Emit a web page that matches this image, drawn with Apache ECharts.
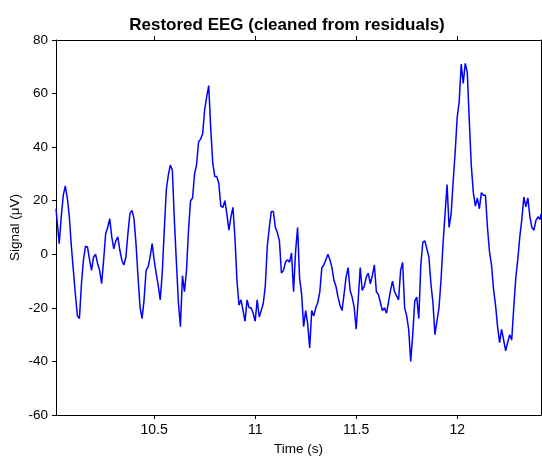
<!DOCTYPE html>
<html>
<head>
<meta charset="utf-8">
<title>Restored EEG</title>
<script src="https://cdn.jsdelivr.net/npm/echarts@6/dist/echarts.min.js"></script>
<style>
  html, body { margin: 0; padding: 0; background: #fff; }
  #chart { width: 542px; height: 456px; }
</style>
</head>
<body>
<div id="chart"></div>
<script>
// time stamps (s)
const timeS = [
  10.014,
  10.02, 10.03, 10.04, 10.05, 10.06, 10.07, 10.08, 10.09, 10.10,
  10.11, 10.12, 10.13, 10.14, 10.15, 10.16, 10.17, 10.18, 10.19, 10.20,
  10.21, 10.22, 10.23, 10.24, 10.25, 10.26, 10.27, 10.28, 10.29, 10.30,
  10.31, 10.32, 10.33, 10.34, 10.35, 10.36, 10.37, 10.38, 10.39, 10.40,
  10.41, 10.42, 10.43, 10.44, 10.45, 10.46, 10.47, 10.48, 10.49, 10.50,
  10.51, 10.52, 10.53, 10.54, 10.55, 10.56, 10.57, 10.58, 10.59, 10.60,
  10.61, 10.62, 10.63, 10.64, 10.65, 10.66, 10.67, 10.68, 10.69, 10.70,
  10.71, 10.72, 10.73, 10.74, 10.75, 10.76, 10.77, 10.78, 10.79, 10.80,
  10.81, 10.82, 10.83, 10.84, 10.85, 10.86, 10.87, 10.88, 10.89, 10.90,
  10.91, 10.92, 10.93, 10.94, 10.95, 10.96, 10.97, 10.98, 10.99, 11.00,
  11.01, 11.02, 11.03, 11.04, 11.05, 11.06, 11.07, 11.08, 11.09, 11.10,
  11.11, 11.12, 11.13, 11.14, 11.15, 11.16, 11.17, 11.18, 11.19, 11.20,
  11.21, 11.22, 11.23, 11.24, 11.25, 11.26, 11.27, 11.28, 11.29, 11.30,
  11.31, 11.32, 11.33, 11.34, 11.35, 11.36, 11.37, 11.38, 11.39, 11.40,
  11.41, 11.42, 11.43, 11.44, 11.45, 11.46, 11.47, 11.48, 11.49, 11.50,
  11.51, 11.52, 11.53, 11.54, 11.55, 11.56, 11.57, 11.58, 11.59, 11.60,
  11.61, 11.62, 11.63, 11.64, 11.65, 11.66, 11.67, 11.68, 11.69, 11.70,
  11.71, 11.72, 11.73, 11.74, 11.75, 11.76, 11.77, 11.78, 11.79, 11.80,
  11.81, 11.82, 11.83, 11.84, 11.85, 11.86, 11.87, 11.88, 11.89, 11.90,
  11.91, 11.92, 11.93, 11.94, 11.95, 11.96, 11.97, 11.98, 11.99, 12.00,
  12.01, 12.02, 12.03, 12.04, 12.05, 12.06, 12.07, 12.08, 12.09, 12.10,
  12.11, 12.12, 12.13, 12.14, 12.15, 12.16, 12.17, 12.18, 12.19, 12.20,
  12.21, 12.22, 12.23, 12.24, 12.25, 12.26, 12.27, 12.28, 12.29, 12.30,
  12.31, 12.32, 12.33, 12.34, 12.35, 12.36, 12.37, 12.38, 12.39, 12.40,
  12.41, 12.415
];

// restored signal (µV), same order as timeS
const signalUV = [
  17,
  12, 4, 14, 22, 25.5, 21, 14, 3, -6,
  -15, -23, -24, -11, -2, 3, 2.7, -2, -6, -1,
  0, -3.5, -6, -11, -2, 7.7, 10, 13.3, 6.5, 2,
  5, 6.5, 1.5, -2.2, -4, -1, 7.7, 15.2, 16.4, 13.3,
  4, -8.5, -19.7, -24, -17, -6, -4.7, -1, 4, -2.2,
  -7.2, -11.6, -17, -7, 9, 24, 29.5, 33.3, 31.4, 12.7,
  -3, -18, -27, -8, -14, -6, 9, 20, 21, 30,
  33.5, 42, 43, 45, 54, 58.8, 63, 47, 34, 29,
  29, 26.4, 18, 17.5, 20, 15, 9, 14, 17.5, 6,
  -10, -19, -17, -21, -25, -17, -20, -20, -22, -25,
  -17, -23.4, -21, -18.4, -12, 3, 10, 16, 16, 10,
  8, 5, -7, -6, -3, -2, -3, 0.5, -14, 1,
  10, -9, -15, -27, -21, -26, -35, -21, -23, -20,
  -18, -14, -5, -4, -2, 0, -2, -5, -9.7, -12,
  -16, -19, -21, -15, -8.5, -5, -13.5, -16, -19.7, -28,
  -17, -5, -13.5, -12, -8.5, -7, -11, -8, -4, -14,
  -15, -18, -21, -20, -22, -18, -13.5, -10, -14, -15.5,
  -17, -6, -3, -20, -23, -28, -40, -30, -17.5, -16,
  -24, -4, 4.5, 5, 2, -1, -11, -18, -30, -25,
  -20, -9.7, 4, 15, 26, 10, 15, 27, 38, 51,
  57, 71, 63.8, 71.3, 68, 50, 33, 23, 18, 21,
  17, 23, 22, 22, 10, 1, -4, -13, -19, -27,
  -33, -28, -32, -36, -33, -30, -32, -20, -9, -2,
  6.5, 13, 21.4, 17.7, 21, 14, 10, 9, 12.7, 14,
  13, 15
];

const xTicks = [10.5, 11, 11.5, 12];

const chart = echarts.init(document.getElementById('chart'));

const font = 'Liberation Sans, Arial, Helvetica, sans-serif';
// inside ticks do not get drawn here, so ticks sit just outside the box
const mkTick = (custom) => {
    const t = {show: true, inside: false, length: 4, lineStyle: {color: '#000', width: 1}};
    if (custom) t.customValues = custom;
    return t;
};
const boxLine = () => ({show: true, onZero: false, lineStyle: {color: '#000', width: 1}});

chart.setOption({
    animation: false,
    backgroundColor: '#fff',
    title: {
        text: 'Restored EEG (cleaned from residuals)',
        left: 282,
        textAlign: 'center',
        top: 12,
        textStyle: {fontFamily: font, fontSize: 17, fontWeight: 'bold', color: '#000'}
    },
    grid: {left: 56, right: 1, top: 40, bottom: 41, containLabel: false, outerBoundsMode: 'none'},
    xAxis: [
        {
            type: 'value',
            position: 'bottom',
            min: 10.014,
            max: 12.415,
            name: 'Time (s)',
            nameLocation: 'middle',
            nameGap: 25,
            nameTextStyle: {fontFamily: font, fontSize: 13.5, color: '#000', verticalAlign: 'top'},
            axisLine: boxLine(),
            axisTick: mkTick(xTicks),
            axisLabel: {
                customValues: xTicks,
                margin: 8,
                fontFamily: font, fontSize: 14, color: '#000',
                formatter: v => String(v)
            },
            splitLine: {show: false}
        },
        {
            type: 'value',
            position: 'top',
            min: 10.014,
            max: 12.415,
            axisLine: boxLine(),
            axisTick: mkTick(xTicks),
            axisLabel: {show: false},
            splitLine: {show: false}
        }
    ],
    yAxis: [
        {
            type: 'value',
            position: 'left',
            min: -60,
            max: 80,
            interval: 20,
            name: 'Signal (\u03bcV)',
            nameLocation: 'middle',
            nameGap: 34,
            nameRotate: 90,
            nameMoveOverlap: false,
            nameTextStyle: {fontFamily: font, fontSize: 13.5, color: '#000'},
            axisLine: boxLine(),
            axisTick: mkTick(),
            axisLabel: {margin: 8, fontFamily: font, fontSize: 13.5, color: '#000'},
            splitLine: {show: false}
        },
        {
            type: 'value',
            position: 'right',
            min: -60,
            max: 80,
            interval: 20,
            axisLine: boxLine(),
            axisTick: {show: false},
            axisLabel: {show: false},
            splitLine: {show: false}
        }
    ],
    series: [
        {
            type: 'line',
            xAxisIndex: 0,
            yAxisIndex: 0,
            data: timeS.map((t, i) => [t, signalUV[i]]),
            showSymbol: false,
            symbol: 'none',
            lineStyle: {color: '#0000ff', width: 1.5},
            clip: true
        }
    ]
});
</script>
</body>
</html>
